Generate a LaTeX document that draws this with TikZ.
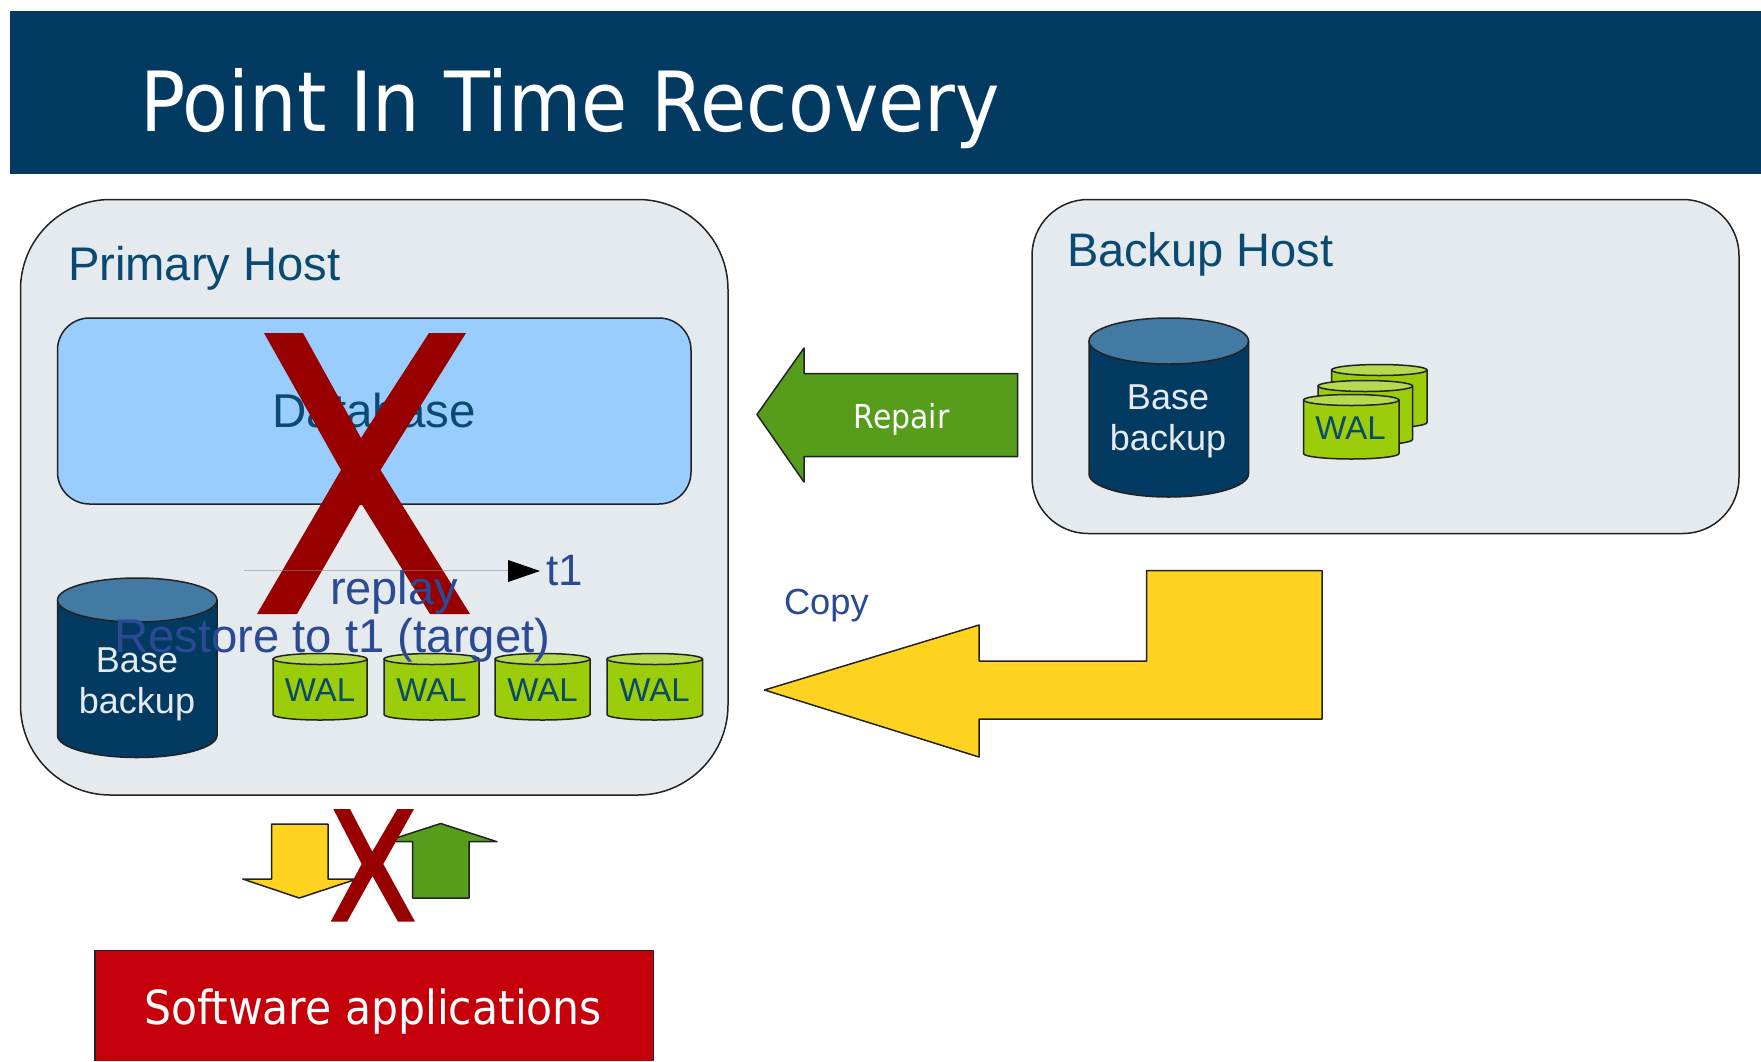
\documentclass[tikz,border=0pt]{standalone}
\usepackage{fontspec}
\setmainfont{Liberation Sans}
\newfontfamily\vera[FakeStretch=0.905]{DejaVu Sans}
\definecolor{navy}{HTML}{023A62}
\definecolor{hostfill}{HTML}{E5EAEF}
\definecolor{hosttext}{HTML}{0B4A70}
\definecolor{dbfill}{HTML}{99CCFF}
\definecolor{crossred}{HTML}{980000}
\definecolor{labelblue}{HTML}{2A4A94}
\definecolor{cyltop}{HTML}{437AA4}
\definecolor{walbody}{HTML}{9BCD0B}
\definecolor{waltop}{HTML}{B7D950}
\definecolor{walinkk}{HTML}{0B4A68}
\definecolor{arrowgreen}{HTML}{579D1C}
\definecolor{arrowyellow}{HTML}{FFD320}
\definecolor{softred}{HTML}{C5000B}
\definecolor{softline}{HTML}{222222}
\newcommand{\fs}[1]{\fontsize{#1}{#1}\selectfont}
\newcommand{\cylshape}[7]{% x1,x2,top,bottom,ry,body,top colour
  \pgfmathsetmacro{\cxm}{(#1+#2)/2}
  \pgfmathsetmacro{\crx}{(#2-#1)/2}
  \pgfmathsetmacro{\cty}{#3+#5}
  \pgfmathsetmacro{\cby}{#4-#5}
  \draw[edge,fill=#6] (#1,\cty) -- (#1,\cby) arc[start angle=180,end angle=360,x radius=\crx pt,y radius=#5 pt] -- (#2,\cty) -- cycle;
  \draw[edge,fill=#7] (\cxm,\cty) ellipse[x radius=\crx pt,y radius=#5 pt];
}
\tikzset{
  edge/.style={draw=softline,line width=1.5pt,line join=round},
  host/.style={draw=softline,line width=1.5pt,fill=hostfill},
  txt/.style={anchor=base west,inner sep=0pt,outer sep=0pt},
  ctxt/.style={anchor=base,inner sep=0pt,outer sep=0pt},
  cross/.style={fill=crossred,draw=none},
}
\begin{document}
\begin{tikzpicture}[x=1pt,y=-1pt]
\useasboundingbox (0,0) rectangle (1761,1061);
% title band
\fill[navy] (10,11) rectangle (1761,174);
\node[txt,text=white] (title) at (140,131) {\vera\fs{83}Point In Time Recovery};
% hosts
\draw[host,rounded corners=90pt] (20.5,199.5) rectangle (728,795);
\draw[host,rounded corners=56pt] (1032,199.5) rectangle (1739,533.5);
\node[txt,text=hosttext] (primary) at (68,280) {\fs{47.2}Primary Host};
\node[txt,text=hosttext] (backup) at (1067,266) {\fs{47}Backup Host};
% database
\draw[rounded corners=32pt,draw=softline,line width=1.5pt,fill=dbfill] (57.5,318) rectangle (691,504);
\node[ctxt,text=hosttext] (database) at (374,427) {\fs{47.5}Database};
% big cross
\fill[cross] (264,333) -- (303,333) -- (361,438) -- (429,333) -- (466,333) -- (380.5,470) -- (470,614) -- (430,614) -- (361,503) -- (297,614) -- (257,614) -- (341,470) -- cycle;
% timeline
\coordinate (linestart) at (244,570);
\coordinate (lineend) at (508,570);
\draw[black!45,opacity=.55,line width=1pt] (linestart) -- (lineend);
\fill[black] (508,560) -- (540,571) -- (508,582) -- cycle;
% primary cylinder and WAL
\cylshape{57.5}{217}{578}{757.5}{22}{navy}{cyltop}
\node[ctxt,text=hostfill] (basep) at (137,672) {\fs{36}Base};
\node[ctxt,text=hostfill] (backupp) at (137,713.5) {\fs{36}backup};
\cylshape{273}{367}{653.5}{720}{5.5}{walbody}{waltop}
\cylshape{384}{479}{653.5}{720}{5.5}{walbody}{waltop}
\cylshape{495}{590}{653.5}{720}{5.5}{walbody}{waltop}
\cylshape{607}{702.5}{653.5}{720}{5.5}{walbody}{waltop}
\node[ctxt,text=walinkk] (wala) at (320,701) {\fs{33}WAL};
\node[ctxt,text=walinkk] (walb) at (431.5,701) {\fs{33}WAL};
\node[ctxt,text=walinkk] (walc) at (542.5,701) {\fs{33}WAL};
\node[ctxt,text=walinkk] (wald) at (654.5,701) {\fs{33}WAL};
% labels on top
\node[txt,text=labelblue] (tone) at (546,585) {\fs{44}t1};
\node[txt,text=labelblue] (replay) at (330,604) {\fs{47}replay};
\node[txt,text=labelblue] (restore) at (114,652) {\fs{47.3}Restore to t1 (target)};
% backup cylinder and WAL stack
\cylshape{1089}{1248.5}{318}{497}{23}{navy}{cyltop}
\node[ctxt,text=hostfill] (baseb) at (1168,409.5) {\fs{36}Base};
\node[ctxt,text=hostfill] (backupb) at (1168,450.5) {\fs{36}backup};
\cylshape{1331.5}{1427}{364.5}{428}{5.5}{walbody}{waltop}
\cylshape{1318}{1412.5}{380.5}{445}{5.5}{walbody}{waltop}
\cylshape{1303.5}{1399}{394.5}{459}{5.5}{walbody}{waltop}
\node[ctxt,text=walinkk] (wals) at (1350.5,439) {\fs{33}WAL};
% repair arrow
\draw[edge,fill=arrowgreen] (757,414.5) -- (804,348) -- (804,373.5) -- (1017.5,373.5) -- (1017.5,456.5) -- (804,456.5) -- (804,482) -- cycle;
\node[ctxt,text=white] (repair) at (901.5,428) {\vera\fs{33}Repair};
% copy arrow
\draw[edge,fill=arrowyellow] (764.5,690) -- (979,625) -- (979,661) -- (1146.5,661) -- (1146.5,570.5) -- (1322,570.5) -- (1322,719) -- (979,719) -- (979,757) -- cycle;
\node[txt,text=labelblue] (copy) at (784,614) {\fs{36.3}Copy};
% small arrows
\draw[edge,fill=arrowyellow] (299.3,898) -- (242.7,879) -- (271.7,879) -- (271.7,824) -- (328,824) -- (328,879) -- (357,879) -- cycle;
\draw[edge,fill=arrowgreen] (440.7,823.5) -- (497,841.7) -- (469,841.7) -- (469,898) -- (412.7,898) -- (412.7,841.7) -- (384.6,841.7) -- cycle;
\fill[cross] (333.3,809) -- (350,809) -- (372.3,851.7) -- (397.3,809) -- (414,809) -- (383.3,864) -- (415,921.7) -- (398,921.7) -- (372.5,876) -- (347,921.7) -- (330.7,921.7) -- (361.7,864) -- cycle;
% software applications
\draw[edge,fill=softred] (95,1061) -- (95,950.5) -- (653.5,950.5) -- (653.5,1061);
\node[ctxt,text=white] (soft) at (373,1024) {\vera\fs{47}Software applications};
\end{tikzpicture}
\end{document}
